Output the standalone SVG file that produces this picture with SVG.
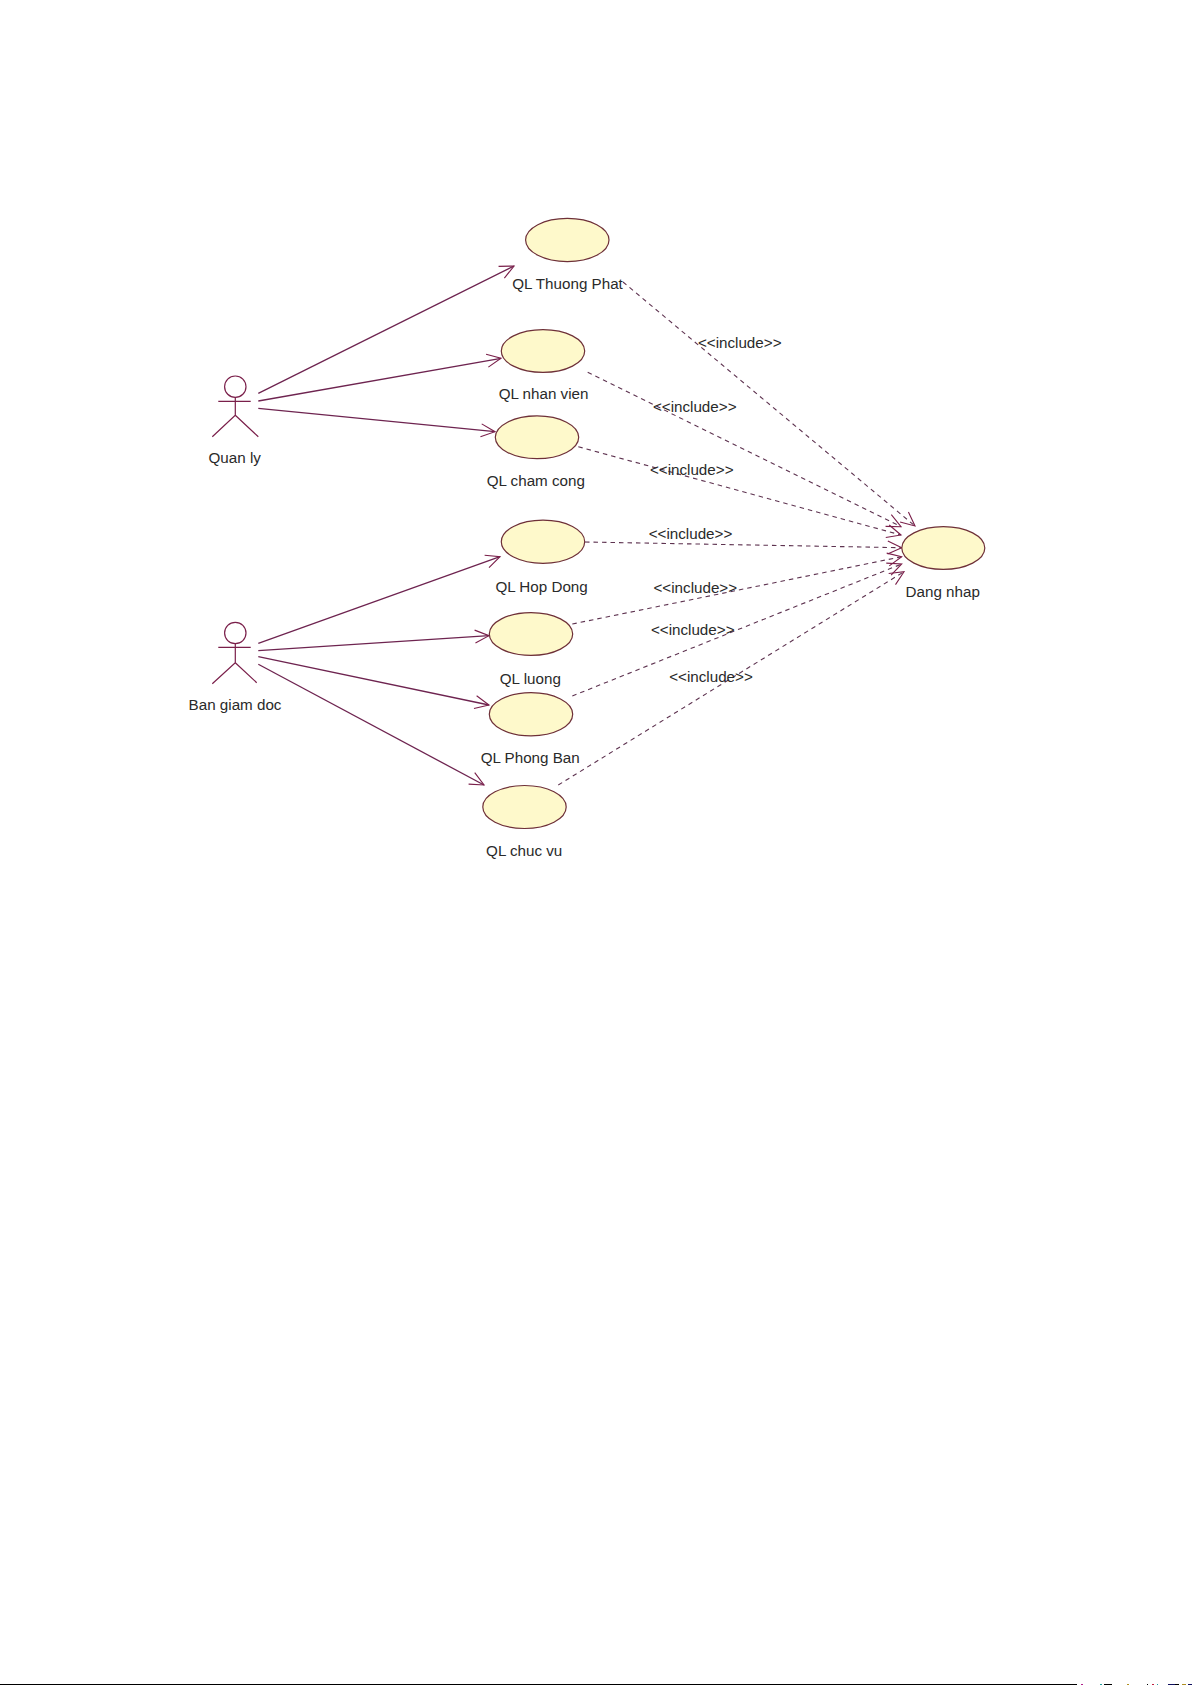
<svg xmlns="http://www.w3.org/2000/svg" width="1192" height="1685" viewBox="0 0 1192 1685">
<defs>
<style>
text{font-family:"Liberation Sans",Arial,sans-serif;font-size:15.2px;fill:#2a2a2a;text-anchor:middle}
.uc{fill:#fef9cb;stroke:#6e3038;stroke-width:1.2}
.ac{fill:#fff;stroke:#7a1f4a;stroke-width:1.2}
.ln{fill:none;stroke:#6e2450;stroke-width:1.3}
.as{marker-end:url(#open)}
.dp{stroke-dasharray:4.5 4;stroke-width:1.1;stroke:#5e3350}
.bar{height:1px}
</style>
<marker id="open" markerUnits="userSpaceOnUse" markerWidth="20" markerHeight="18" refX="15" refY="8" orient="auto" overflow="visible">
<path d="M1 1.5L15 8L1 14.5" fill="none" stroke="#7a1f4a" stroke-width="1.1"/>
</marker>
</defs>
<rect width="1192" height="1685" fill="#fff"/>
<g id="connectors">
<path class="ln as" d="M258.3 393.3L514 266"/>
<path class="ln as" d="M258.3 401L501 358.3"/>
<path class="ln as" d="M258.3 408.3L495 431.7"/>
<path class="ln as" d="M258.3 643.3L500 556.7"/>
<path class="ln as" d="M258.3 650.7L489 635.7"/>
<path class="ln as" d="M258.3 656.7L489 705"/>
<path class="ln as" d="M258.3 664.3L484 785"/>
<path class="ln as dp" d="M623 282L915 526"/>
<path class="ln as dp" d="M587.7 372.3L901 526.7"/>
<path class="ln as dp" d="M578.3 446.7L901 535"/>
<path class="ln as dp" d="M585 542L901.7 547.7"/>
<path class="ln as dp" d="M572.3 624L901.7 556.7"/>
<path class="ln as dp" d="M572.3 696L901.7 564"/>
<path class="ln as dp" d="M558.3 785L904 571.7"/>
<text x="739.7" y="347.7">&lt;&lt;include&gt;&gt;</text>
<text x="694.7" y="411.7">&lt;&lt;include&gt;&gt;</text>
<text x="691.7" y="475">&lt;&lt;include&gt;&gt;</text>
<text x="690.5" y="538.7">&lt;&lt;include&gt;&gt;</text>
<text x="695.3" y="593.3">&lt;&lt;include&gt;&gt;</text>
<text x="692.7" y="635">&lt;&lt;include&gt;&gt;</text>
<text x="711" y="682">&lt;&lt;include&gt;&gt;</text>
</g>
<g id="actor-quan-ly">
<circle class="ac" cx="235.3" cy="386.7" r="10.7"/>
<path class="ac" d="M218.3 401.3H250.7M235.3 397.3V415.3L212.3 436.7M235.3 415.3L258.3 436.7" style="fill:none"/>
<text x="234.7" y="463.3">Quan ly</text>
</g>
<g id="actor-ban-giam-doc">
<circle class="ac" cx="235.3" cy="633" r="10.7"/>
<path class="ac" d="M218.3 647.3H250.7M235.3 643.7V662.7L212.3 683.7M235.3 662.7L256.7 682.7" style="fill:none"/>
<text x="235" y="710">Ban giam doc</text>
</g>
<g id="uc-thuong-phat"><ellipse class="uc" cx="567.3" cy="240" rx="41.7" ry="21.6"/><text x="567.5" y="289.3">QL Thuong Phat</text></g>
<g id="uc-nhan-vien"><ellipse class="uc" cx="543" cy="351" rx="41.7" ry="21.4"/><text x="543.6" y="399.3">QL nhan vien</text></g>
<g id="uc-cham-cong"><ellipse class="uc" cx="537" cy="437.3" rx="41.7" ry="21.4"/><text x="535.8" y="486">QL cham cong</text></g>
<g id="uc-hop-dong"><ellipse class="uc" cx="543" cy="541.7" rx="41.7" ry="21.6"/><text x="541.6" y="591.7">QL Hop Dong</text></g>
<g id="uc-luong"><ellipse class="uc" cx="531" cy="634" rx="41.7" ry="21.4"/><text x="530.3" y="684">QL luong</text></g>
<g id="uc-phong-ban"><ellipse class="uc" cx="531" cy="714.3" rx="41.7" ry="21.6"/><text x="530.2" y="763.3">QL Phong Ban</text></g>
<g id="uc-chuc-vu"><ellipse class="uc" cx="524.5" cy="807" rx="41.7" ry="21.5"/><text x="524.2" y="855.7">QL chuc vu</text></g>
<g id="uc-dang-nhap"><ellipse class="uc" cx="943.3" cy="548" rx="41.5" ry="21.4"/><text x="942.7" y="597.3">Dang nhap</text></g>
<g fill="#000">
<rect class="bar" x="0" y="1684" width="1077"/>
<rect class="bar" x="1081" y="1684" width="2" fill="#b0208a"/>
<rect class="bar" x="1100" y="1684" width="2" fill="#20a0a0"/>
<rect class="bar" x="1104" y="1684" width="8"/>
<rect class="bar" x="1127" y="1684" width="2" fill="#b09020"/>
<rect class="bar" x="1147" y="1684" width="1"/>
<rect class="bar" x="1152" y="1684" width="2" fill="#c02040"/>
<rect class="bar" x="1157" y="1684" width="1" fill="#20a0a0"/>
<rect class="bar" x="1168" y="1684" width="7" fill="#101060"/>
<rect class="bar" x="1175" y="1684" width="4"/>
<rect class="bar" x="1182" y="1684" width="4" fill="#b09020"/>
<rect class="bar" x="1188" y="1684" width="4" fill="#101060"/>
</g>
</svg>
